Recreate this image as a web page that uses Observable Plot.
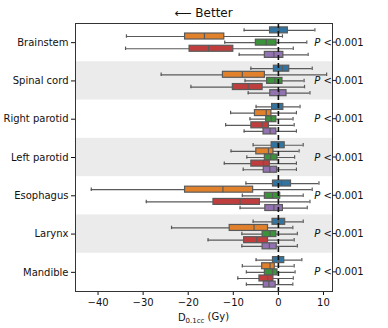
<!DOCTYPE html>
<html>
<head>
<meta charset="utf-8">
<script src="https://cdn.jsdelivr.net/npm/d3@7"></script>
<script src="https://cdn.jsdelivr.net/npm/@observablehq/plot@0.6"></script>
<style>
  html, body { margin: 0; padding: 0; background: #fff; }
  #chart svg { display: block; font-family: "DejaVu Sans", sans-serif; }
</style>
</head>
<body>
<div id="chart"></div>
<script>
const categories = ["Brainstem", "Spinal cord", "Right parotid", "Left parotid", "Esophagus", "Larynx", "Mandible"];
const seriesNames = ["s1", "s2", "s3", "s4", "s5"];
const seriesColors = ["#3274a1", "#e1812c", "#3a923a", "#c03d3e", "#9372b2"];
const shadedCategories = ["Spinal cord", "Left parotid", "Larynx"];
const xTicks = [-40, -30, -20, -10, 0, 10];
const pLabel = "< 0.001";
const title = "\u27F5 Better";

// [whisker low, q1, median, q3, whisker high] per category
const s1 = [
  [-7.6, -1.85, 0.15, 2.1, 8.1],
  [-6.1, -1.0, 0.9, 2.4, 7.5],
  [-4.95, -1.4, -0.1, 1.1, 4.8],
  [-5.6, -1.5, -0.1, 1.4, 5.5],
  [-7.2, -1.2, 0.7, 2.8, 9.0],
  [-5.6, -1.3, 0.0, 1.5, 5.5],
  [-4.95, -1.2, 0.07, 1.3, 5.2]
];
const s2 = [
  [-33.7, -20.7, -16.4, -12.0, 0.9],
  [-26.0, -12.3, -8.0, -3.0, 10.7],
  [-10.6, -5.2, -2.7, -1.55, 4.0],
  [-10.5, -4.9, -2.2, -1.1, 4.6],
  [-41.5, -20.7, -12.3, -5.6, 7.5],
  [-23.7, -10.8, -5.4, -2.3, 3.2],
  [-8.0, -3.6, -1.85, -0.8, 3.5]
];
const s3 = [
  [-11.9, -5.0, -2.7, -0.4, 6.3],
  [-7.4, -2.5, -0.8, 0.9, 5.7],
  [-6.3, -2.7, -1.6, -0.44, 3.25],
  [-7.0, -3.0, -1.7, -0.2, 3.6],
  [-8.0, -3.0, -1.3, 0.4, 5.5],
  [-8.1, -3.5, -1.85, -0.44, 4.2],
  [-7.1, -3.0, -1.3, -0.2, 3.7]
];
const s4 = [
  [-33.9, -19.7, -15.5, -10.0, 3.3],
  [-19.4, -10.1, -6.7, -3.5, 5.8],
  [-11.7, -6.0, -3.6, -2.1, 3.5],
  [-12.0, -6.0, -3.3, -1.9, 4.0],
  [-29.3, -14.4, -8.5, -4.1, 7.0],
  [-15.6, -7.6, -4.8, -2.3, 3.5],
  [-9.0, -4.2, -2.4, -1.1, 3.3]
];
const s5 = [
  [-8.7, -3.0, -1.0, 1.1, 6.6],
  [-6.7, -1.8, 0.15, 1.8, 7.0],
  [-7.6, -3.3, -1.85, -0.44, 4.0],
  [-7.8, -3.25, -1.9, -0.3, 4.0],
  [-8.5, -2.9, -1.0, 1.0, 6.4],
  [-8.1, -3.5, -2.0, -0.37, 4.2],
  [-7.1, -3.25, -2.1, -0.6, 3.2]
];

const allSeries = [s1, s2, s3, s4, s5];
const step = 0.16;      // share of a category band given to each series
const half = 0.078;     // half height of a box
const cap = 0.045;      // half height of whisker caps

const rows = [];
categories.forEach((cat, i) => {
  allSeries.forEach((s, j) => {
    const [lo, q1, med, q3, hi] = s[i];
    rows.push({cat, series: seriesNames[j], color: seriesColors[j],
      y: i + (j - 2) * step, lo, q1, med, q3, hi});
  });
});
const shaded = shadedCategories.map(c => ({i: categories.indexOf(c)}));
const catIdx = categories.map((c, i) => i);

const lineColor = "#5a5a5a";

const plot = Plot.plot({
  width: 388,
  height: 328,
  marginLeft: 75,
  marginRight: 56,
  marginTop: 23,
  marginBottom: 37,
  style: {fontFamily: "DejaVu Sans, sans-serif", fontSize: "10px", color: "#111", background: "#fff"},
  x: {domain: [-45, 12], ticks: xTicks, tickFormat: d3.format(""), tickSize: 4, tickPadding: 3, label: null},
  y: {domain: [6.5, -0.5], ticks: catIdx, tickFormat: d => categories[d], tickSize: 4, tickPadding: 3, label: null},
  marks: [
    Plot.rect(shaded, {y1: d => d.i - 0.5, y2: d => d.i + 0.5, fill: "#ebebeb"}),
    // whiskers
    Plot.ruleY(rows, {y: "y", x1: "lo", x2: "hi", stroke: lineColor, strokeWidth: 1.2}),
    Plot.ruleX(rows, {x: "lo", y1: d => d.y - cap, y2: d => d.y + cap, stroke: lineColor, strokeWidth: 1.2}),
    Plot.ruleX(rows, {x: "hi", y1: d => d.y - cap, y2: d => d.y + cap, stroke: lineColor, strokeWidth: 1.2}),
    // boxes
    Plot.rect(rows, {x1: "q1", x2: "q3", y1: d => d.y - half, y2: d => d.y + half, fill: "color", stroke: lineColor, strokeWidth: 1.2}),
    // medians
    Plot.ruleX(rows, {x: "med", y1: d => d.y - half, y2: d => d.y + half, stroke: lineColor, strokeWidth: 1.2}),
    // zero reference
    Plot.ruleX([0], {stroke: "#111", strokeWidth: 1.6, strokeDasharray: "5,3"}),
    Plot.frame({stroke: "#333", strokeWidth: 1})
  ]
});

document.getElementById("chart").appendChild(plot);

const svg = d3.select(plot);
const ys = plot.scale("y");
const left = 75, right = 388 - 56;

// right-side ticks and P labels
catIdx.forEach(i => {
  const yy = ys.apply(i);
  svg.append("line").attr("x1", right).attr("x2", right + 4).attr("y1", yy).attr("y2", yy)
    .attr("stroke", "#222");
  const t = svg.append("text").attr("x", right + 7).attr("y", yy).attr("dy", "0.35em")
    .attr("font-size", 10).attr("fill", "#111");
  t.append("tspan").attr("font-style", "italic").text("P");
  t.append("tspan").text(" " + pLabel);
});

// title
svg.append("text").attr("x", (left + right) / 2).attr("y", 13).attr("dy", "0.35em")
  .attr("text-anchor", "middle").attr("font-size", 12).attr("fill", "#111").text(title);

// x label with subscript
const xl = svg.append("text").attr("x", (left + right) / 2).attr("y", 317).attr("dy", "0.35em")
  .attr("text-anchor", "middle").attr("font-size", 10).attr("fill", "#111");
xl.append("tspan").text("D");
xl.append("tspan").attr("font-size", 7).attr("dy", "0.3em").text("0.1cc");
xl.append("tspan").attr("dy", "-0.3em").text(" (Gy)");
</script>
</body>
</html>
